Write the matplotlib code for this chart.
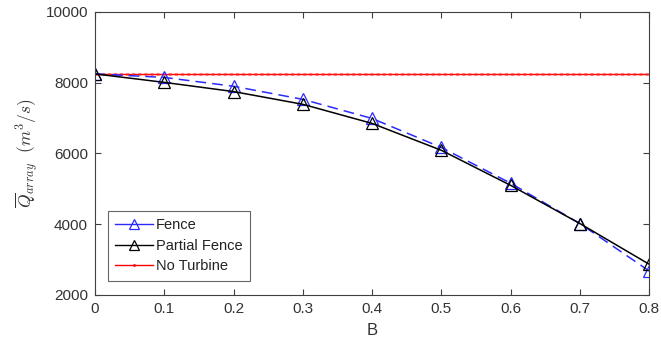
import matplotlib
matplotlib.use("Agg")
import matplotlib.pyplot as plt
from matplotlib.lines import Line2D

B = [0.0, 0.1, 0.2, 0.3, 0.4, 0.5, 0.6, 0.7, 0.8]
fence = [8250, 8150, 7900, 7530, 6990, 6170, 5160, 4020, 2680]
partial_fence = [8250, 8010, 7750, 7390, 6850, 6090, 5100, 4020, 2870]
no_turbine = [8250] * len(B)

plt.rcParams['font.family'] = ['Liberation Sans', 'DejaVu Sans']
plt.rcParams['mathtext.fontset'] = 'cm'

axis_gray = '#404040'
blue = '#2a2aff'

fig = plt.figure(figsize=(6.61, 3.52), dpi=100)
ax = fig.add_axes([0.1437, 0.162, 0.8383, 0.804])

ax.plot(B, no_turbine, color='red', ls='-', lw=1.0)
ax.plot(B, no_turbine, color='#ff3030', ls=(0, (1, 1)), lw=2.2, alpha=0.6)
ax.plot(B, fence, color=blue, ls=(0, (7, 4)), lw=1.1, marker='^',
        markersize=8, markerfacecolor='none', markeredgecolor=blue,
        markeredgewidth=0.9)
ax.plot(B, partial_fence, color='black', ls='-', lw=1.1, marker='^',
        markersize=8, markerfacecolor='none', markeredgecolor='black',
        markeredgewidth=0.9)

ax.set_xlim(0, 0.8)
ax.set_ylim(2000, 10000)
ax.set_xticks([0, 0.1, 0.2, 0.3, 0.4, 0.5, 0.6, 0.7, 0.8])
ax.set_xticklabels(['0', '0.1', '0.2', '0.3', '0.4', '0.5', '0.6', '0.7', '0.8'])
ax.set_yticks([2000, 4000, 6000, 8000, 10000])

ax.tick_params(direction='in', top=True, right=True, length=4, width=0.8,
               labelsize=11, colors=axis_gray, labelcolor='#333333', pad=5)
for s in ax.spines.values():
    s.set_color(axis_gray)
    s.set_linewidth(0.8)

ax.set_xlabel('B', fontsize=12, color='#333333', labelpad=5)
ax.set_ylabel(r'$\overline{Q}_{array}\ \ (m^3/s)$', fontsize=12.5,
              color='#333333', labelpad=4)

handles = [
    Line2D([], [], color=blue, ls='-', lw=1.0, marker='^', markersize=7,
           markerfacecolor='none', markeredgecolor=blue, markeredgewidth=0.9),
    Line2D([], [], color='black', ls='-', lw=1.0, marker='^', markersize=7,
           markerfacecolor='none', markeredgecolor='black', markeredgewidth=0.9),
    Line2D([], [], color='red', ls='-', lw=1.0, marker='.', markersize=2),
]
leg = ax.legend(handles, ['Fence', 'Partial Fence', 'No Turbine'],
                loc='lower left', bbox_to_anchor=(0.018, 0.04), fontsize=10.5,
                frameon=True, fancybox=False, edgecolor=axis_gray,
                handlelength=2.6, handletextpad=0.2, borderpad=0.5,
                labelspacing=0.45, borderaxespad=0.2)
leg.get_frame().set_linewidth(0.8)
for t in leg.get_texts():
    t.set_color('#222222')

fig.savefig('out.png', dpi=100)
